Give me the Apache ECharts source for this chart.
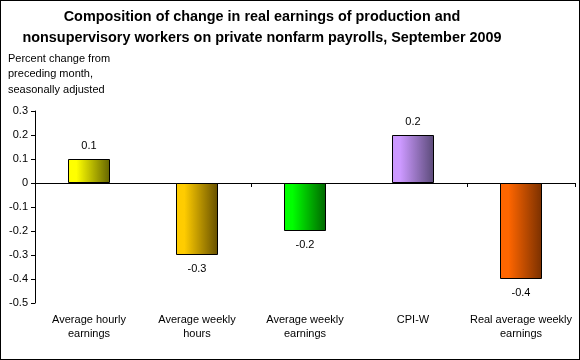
<!DOCTYPE html>
<html><head><meta charset="utf-8">
<script src="https://cdn.jsdelivr.net/npm/echarts@6/dist/echarts.min.js"></script>
<style>html,body{margin:0;padding:0;background:#fff}#c{width:580px;height:360px;box-sizing:border-box;border:1px solid #000}</style>
</head><body><div id="c"></div>
<script>
var categories = ['Average hourly\nearnings','Average weekly\nhours','Average weekly\nearnings','CPI-W','Real average weekly\nearnings'];
var values = [0.1, -0.3, -0.2, 0.2, -0.4];
var yTicks = [0.3, 0.2, 0.1, 0, -0.1, -0.2, -0.3, -0.4, -0.5];
var palette = [['#ffff00','#646400'],['#ffcc00','#665000'],['#00ff00','#006600'],['#cc99ff','#5a4a78'],['#ff6600','#7a3000']];
var titleText = 'Composition of change in real earnings of production and\nnonsupervisory workers on private nonfarm payrolls, September 2009';
var subtitleText = 'Percent change from\npreceding month,\nseasonally adjusted';

var font = 'Liberation Sans, Arial, sans-serif';
var chart = echarts.init(document.getElementById('c'), null, {renderer:'canvas'});
function barColor(i){
  return {type:'linear',x:0,y:0,x2:1,y2:0,colorStops:[{offset:0,color:palette[i][0]},{offset:0.2,color:palette[i][0]},{offset:1,color:palette[i][1]}]};
}
chart.setOption({
  animation:false,
  backgroundColor:'#fff',
  graphic:[{
    type:'text', x:261, y:6,
    style:{text:titleText, font:'bold 14.4px '+font, fill:'#000', align:'center', verticalAlign:'top', lineHeight:21}
  },{
    type:'text', x:7, y:50,
    style:{text:subtitleText, font:'11px '+font, fill:'#000', align:'left', verticalAlign:'top', lineHeight:15.5}
  }],
  grid:{left:34, right:4, top:110, bottom:56, containLabel:false},
  xAxis:[{
    type:'category', data:categories, position:'bottom',
    axisLine:{onZero:true, lineStyle:{color:'#000', width:1}},
    axisTick:{show:true, alignWithLabel:false, length:4, lineStyle:{color:'#000'}},
    axisLabel:{show:false}, splitLine:{show:false}
  },{
    type:'category', data:categories, position:'bottom',
    axisLine:{show:false, onZero:false}, axisTick:{show:false},
    axisLabel:{show:true, margin:10, interval:0, fontFamily:font, fontSize:11, color:'#000', lineHeight:14},
    splitLine:{show:false}
  }],
  yAxis:{
    type:'value', min:-0.5, max:0.3, interval:0.1,
    axisLine:{show:true, lineStyle:{color:'#000'}},
    axisTick:{show:true, length:4, lineStyle:{color:'#000'}},
    splitLine:{show:false},
    axisLabel:{fontFamily:font, fontSize:11, color:'#000', margin:7,
      formatter:function(v){ var r=Math.round(v*10)/10; return r===0?'0':String(r); }}
  },
  series:[{
    type:'bar', xAxisIndex:0, barWidth:42,
    data: values.map(function(v,i){
      return {value:v, label:{position: v<0?'bottom':'top'},
        itemStyle:{color:barColor(i), borderColor:'#000', borderWidth:1}};
    }),
    label:{show:true, fontFamily:font, fontSize:11, color:'#000', distance:8,
      formatter:function(p){return String(p.value);}
    }
  }]
});
</script></body></html>
